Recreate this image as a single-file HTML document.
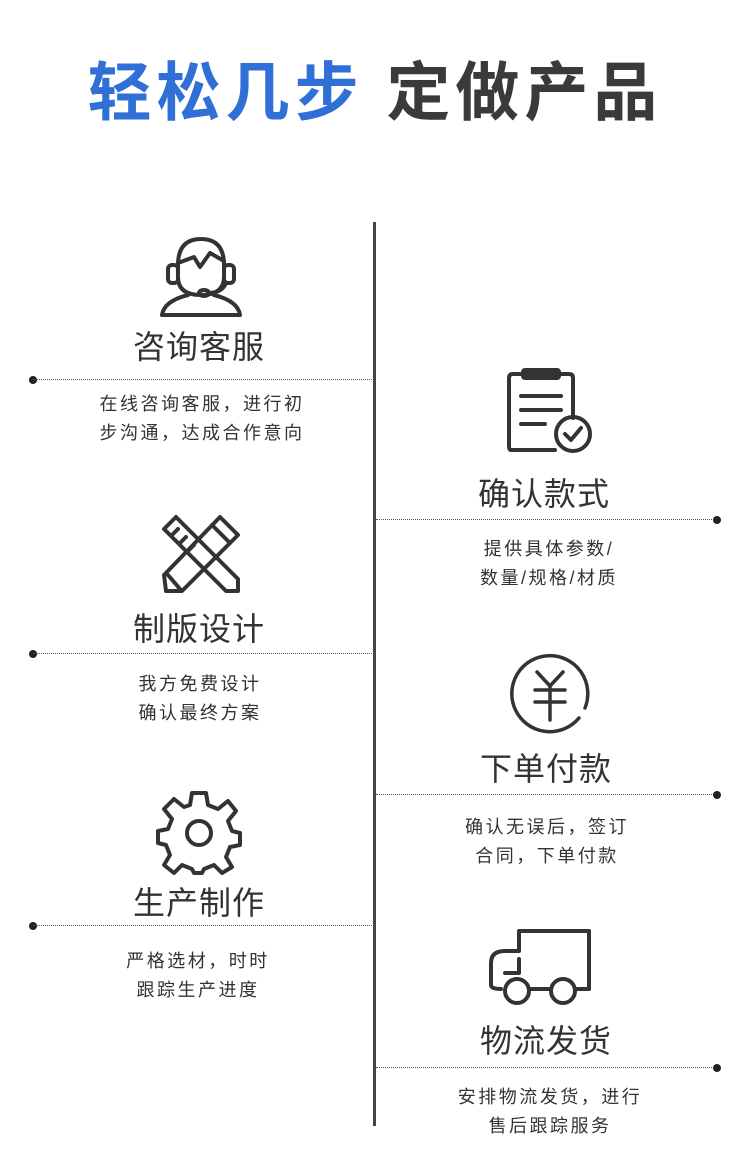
<!DOCTYPE html>
<html><head><meta charset="utf-8"><style>
body{margin:0;width:750px;height:1171px;background:#fff;position:relative;overflow:hidden;font-family:"Liberation Sans","Noto Sans CJK SC",sans-serif;color:#333}
.a{position:absolute}
.t{position:absolute;font-size:32px;letter-spacing:1px;text-align:center;width:300px;color:#333;line-height:1}
.d{position:absolute;font-size:18px;letter-spacing:2.5px;text-align:center;width:300px;line-height:29px;color:#333}
.l{position:absolute;height:0;border-top:1.5px dotted #555}
.dot{position:absolute;width:8px;height:8px;border-radius:50%;background:#222}
svg{position:absolute;fill:none;stroke:#333;stroke-width:4;stroke-linecap:round;stroke-linejoin:round}
</style></head><body>
<div class="a" style="left:0;width:750px;top:55px;text-align:center;font-size:64px;font-weight:bold;letter-spacing:5px;line-height:76px"><span style="color:#2f6fd6">轻松几步</span> <span style="color:#3a3a3a">定做产品</span></div>
<div class="a" style="left:373px;top:222px;width:3px;height:904px;background:#444"></div>

<svg style="left:160px;top:235px" width="82" height="82" viewBox="0 0 82 82"><path d="M18 30 Q18 4 41 4 Q64 4 64 30 V42 Q64 60 41 60 Q18 60 18 42 Z"/><rect x="8" y="30" width="10" height="18" rx="4"/><rect x="64" y="30" width="10" height="18" rx="4"/><path d="M18 28 L34 22 L40 32 L50 18 L64 26"/><path d="M66 48 Q62 58 48 58"/><ellipse cx="44" cy="58" rx="5" ry="3"/><path d="M28 60 Q4 66 2 80 H80 Q78 66 54 60"/></svg>
<div class="t" style="left:49px;top:331px">咨询客服</div>
<div class="dot" style="left:29px;top:376px"></div><div class="l" style="left:33px;top:379px;width:339px"></div>
<div class="d" style="left:52px;top:390px">在线咨询客服，进行初<br>步沟通，达成合作意向</div>

<svg style="left:160px;top:513px" width="82" height="82" viewBox="0 0 82 82"><path d="M4 16 L16 4 L78 66 L78 78 L66 78 Z"/><path d="M12 22 L18 16 M20 30 L26 24 M28 38 L34 32"/><path d="M60 4 L78 22 L22 78 L6 78 L4 62 Z"/><path d="M52 12 L70 30 M8 62 L20 76"/></svg>
<div class="t" style="left:49px;top:613px">制版设计</div>
<div class="dot" style="left:29px;top:650px"></div><div class="l" style="left:33px;top:653px;width:339px"></div>
<div class="d" style="left:50px;top:670px">我方免费设计<br>确认最终方案</div>

<svg style="left:156px;top:789px" width="86" height="86" viewBox="0 0 86 86"><path d="M36 4 H50 L52 16 L62 20 L72 12 L80 22 L72 32 L76 42 L84 44 V56 L74 58 L70 68 L76 78 L66 84 L58 76 L48 80 L46 84 H38 L36 80 L26 76 L18 84 L8 76 L14 66 L10 56 L2 54 V42 L12 40 L16 30 L8 20 L18 10 L28 18 L34 16 Z"/><circle cx="43" cy="44" r="12"/></svg>
<div class="t" style="left:49px;top:887px">生产制作</div>
<div class="dot" style="left:29px;top:922px"></div><div class="l" style="left:33px;top:925px;width:339px"></div>
<div class="d" style="left:48px;top:947px">严格选材，时时<br>跟踪生产进度</div>

<svg style="left:505px;top:368px" width="90" height="88" viewBox="0 0 90 88"><path d="M50 82 H6 Q4 82 4 78 V10 Q4 6 8 6 H64 Q68 6 68 10 V50"/><rect x="18" y="2" width="36" height="8" rx="2"/><path d="M16 28 H56 M16 42 H56 M16 56 H40"/><circle cx="68" cy="66" r="17"/><path d="M60 66 L66 72 L76 60"/></svg>
<div class="t" style="left:394px;top:478px">确认款式</div>
<div class="l" style="left:376px;top:519px;width:340px"></div><div class="dot" style="left:713px;top:516px"></div>
<div class="d" style="left:399px;top:535px">提供具体参数/<br>数量/规格/材质</div>

<svg style="left:507px;top:650px" width="86" height="86" viewBox="0 0 86 86"><path d="M72 68 A38 38 0 1 1 78 58" stroke-width="3.5"/><path d="M30 22 L43 36 L56 22 M28 40 H58 M28 52 H58 M43 36 V70" stroke-width="3.5"/></svg>
<div class="t" style="left:396px;top:753px">下单付款</div>
<div class="l" style="left:376px;top:794px;width:340px"></div><div class="dot" style="left:713px;top:791px"></div>
<div class="d" style="left:397px;top:813px">确认无误后，签订<br>合同，下单付款</div>

<svg style="left:487px;top:925px" width="106" height="82" viewBox="0 0 106 82"><path d="M14 64 Q4 64 4 60 V38 Q4 26 18 26 H32 V6 H102 V64 H90"/><path d="M18 48 H32 V34"/><path d="M44 64 H62"/><circle cx="30" cy="66" r="12"/><circle cx="76" cy="66" r="12"/></svg>
<div class="t" style="left:396px;top:1025px">物流发货</div>
<div class="l" style="left:376px;top:1067px;width:340px"></div><div class="dot" style="left:713px;top:1064px"></div>
<div class="d" style="left:400px;top:1083px">安排物流发货，进行<br>售后跟踪服务</div>
</body></html>
